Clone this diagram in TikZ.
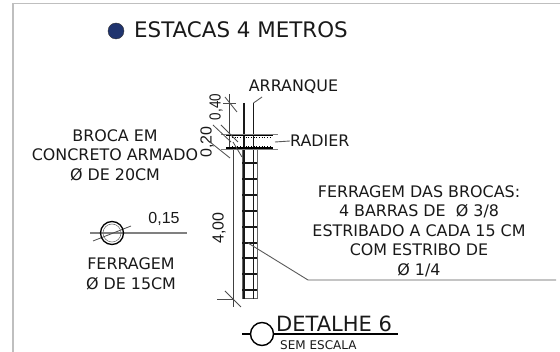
\documentclass[tikz,border=0pt]{standalone}
\usepackage{fontspec}
\setmainfont{DejaVu Sans}
\newfontfamily\dimfont{Liberation Sans}
\usetikzlibrary{positioning,calc}
\definecolor{navy}{RGB}{32,52,110}
\tikzset{
  label text/.style={inner sep=0pt,align=center,font=\fontsize{15.9}{19.5}\selectfont,text=black!90},
  dim text/.style={inner sep=0pt,font=\dimfont\fontsize{16}{18}\selectfont,rotate=90,text=black!90},
  dimline/.style={line width=0.8pt,draw=black!75},
  tick/.style={line width=0.8pt,draw=black!70},
  bar/.style={line width=1.4pt,draw=black!90},
  wall/.style={line width=1pt,draw=black!60},
  leader/.style={line width=0.9pt,draw=black!65}
}
\begin{document}
\begin{tikzpicture}[x=1pt,y=-1pt]
  \useasboundingbox (0,0) rectangle (560,352);
  \draw[line width=1.2pt,draw=black!25] (13,352) -- (13,3.5) -- (560,3.5);

  % title
  \node[circle,draw=black!80,fill=navy,minimum size=16pt,inner sep=0pt] (dot) at (116,31) {};
  \node[label text,anchor=west,font=\fontsize{21.4}{24}\selectfont] (title) at (134,30) {ESTACAS 4 METROS};

  % texts
  \node[label text] (broca) at (115,155) {BROCA EM\\CONCRETO ARMADO\\Ø DE 20CM};
  \node[label text] (ferragem) at (131,274) {FERRAGEM\\Ø DE 15CM};
  \node[label text] (brocas) at (419,231) {FERRAGEM DAS BROCAS:\\4 BARRAS DE~ Ø 3/8\\ESTRIBADO A CADA 15 CM\\COM ESTRIBO DE\\Ø 1/4};
  \node[label text] (arranque) at (293.5,87) {ARRANQUE};
  \node[label text,anchor=west] (radier) at (290,141) {RADIER};

  % pile
  \draw[dimline] (229,94) -- (229,148);
  \draw[dimline] (233,147) -- (233,307);
  \draw[wall] (242,150) -- (242,299) -- (257,299) -- (257,150);
  \draw[bar] (244,103) -- (244,299);
  \draw[bar] (253.5,103) -- (253.5,299);
  \foreach \y in {163,179,195,211,227,243,258,274,290}
    {\draw[bar] (242,\y) -- (257,\y);}

  % slab
  \draw[line width=1.8pt] (226,135) -- (273,135);
  \draw[line width=1.8pt] (226,148) -- (273,148);
  \draw[line width=0.7pt,draw=black!50] (221,134) -- (278,134);
  \draw[line width=0.7pt,draw=black!50] (221,149) -- (278,149);
  \draw[line width=0.7pt,dotted] (232,137) -- (272,137);
  \draw[line width=0.7pt,dotted] (232,146) -- (272,146);

  % dimensions
  \node[dim text] (d40) at (216,107) {\scalebox{0.84}[1]{0,40}};
  \node[dim text] (d20) at (207,142) {0,20};
  \node[dim text] (d400) at (219,228) {4,00};
  \draw[tick] (225,97) -- (237,112);
  \draw[tick] (213,125) -- (231,142);
  \draw[tick] (221,125) -- (238,142);
  \draw[tick] (210,142) -- (230,158);
  \draw[tick] (233,142) -- (242,157);
  \draw[tick] (225,291) -- (241,307);
  \draw[tick] (223,103) -- (236,103);
  \draw[tick] (217,299) -- (233,299);

  % leaders
  \coordinate (lk) at (253.5,103);
  \coordinate (ak) at (262,97);
  \draw[leader] (ak) -- (lk);
  \coordinate (rd) at (275,142);
  \draw[leader] (rd) -- (radier.west);
  \coordinate (ls) at (248,243);
  \coordinate (lb) at (308,280);
  \coordinate (le) at (556,280);
  \draw[leader] (ls) -- (lb) -- (le);

  % section symbol
  \draw[line width=1.5pt,draw=black!50] (90,233) -- (187,233);
  \draw[tick] (93,241) -- (131,226);
  \node[circle,draw,line width=1.3pt,minimum size=23pt,inner sep=0pt] (sec2) at (112,233) {};
  \node[circle,draw=black!55,line width=0.6pt,minimum size=18pt,inner sep=0pt] (sec3) at (112,233) {};
  \node[inner sep=0pt,font=\dimfont\fontsize{16}{18}\selectfont,text=black!90] (dim15) at (164,219) {0,15};

  % detail title
  \coordinate (ta) at (242,334);
  \coordinate (tb) at (398,334);
  \draw[line width=1.4pt] (ta) -- (tb);
  \node[circle,draw,line width=1.4pt,fill=white,minimum size=23pt,inner sep=0pt] (det) at (262,334) {};
  \node[anchor=base west,inner sep=0pt,font=\fontsize{21}{24}\selectfont,text=black!90] (detalhe) at (276,332) {DETALHE 6};
  \node[anchor=base west,inner sep=0pt,font=\fontsize{12}{14}\selectfont,text=black!90] (escala) at (280,350) {SEM ESCALA};
\end{tikzpicture}
\end{document}
